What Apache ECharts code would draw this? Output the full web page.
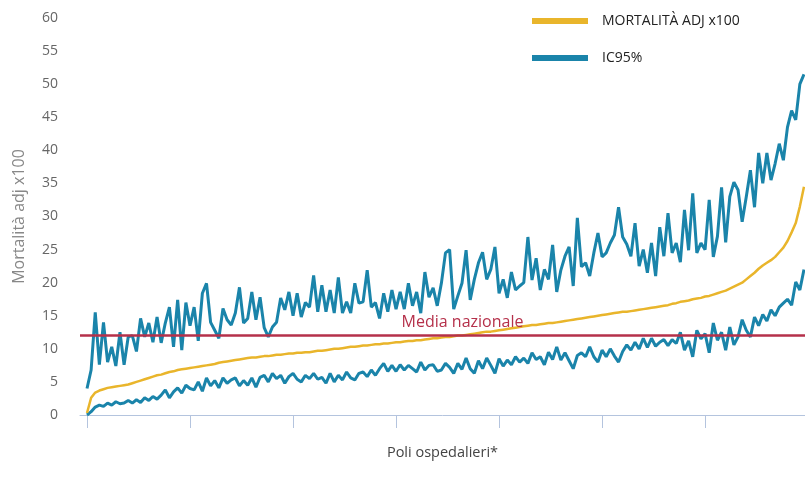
<!DOCTYPE html>
<html>
<head>
<meta charset="utf-8">
<script src="https://cdn.jsdelivr.net/npm/echarts@6/dist/echarts.min.js"></script>
<style>html,body{margin:0;padding:0;background:#fff}#c{width:805px;height:490px}</style>
</head>
<body>
<div id="c"></div>
<script>
// hospital index positions (every second hospital)
const poli = [0,2,4,6,8,10,12,14,16,18,20,22,24,26,28,30,32,34,36,38,40,42,44,46,48,
50,52,54,56,58,60,62,64,66,68,70,72,74,76,78,80,82,84,86,88,90,92,94,96,98,
100,102,104,106,108,110,112,114,116,118,120,122,124,126,128,130,132,134,136,138,140,142,144,146,148,
150,152,154,156,158,160,162,164,166,168,170,172,174,176,178,180,182,184,186,188,190,192,194,196,198,
200,202,204,206,208,210,212,214,216,218,220,222,224,226,228,230,232,234,236,238,240,242,244,246,248,
250,252,254,256,258,260,262,264,266,268,270,272,274,276,278,280,282,284,286,288,290,292,294,296,298,
300,302,304,306,308,310,312,314,316,318,320,322,324,326,328,330,332,334,336,338,340,342,344,346,348];

const mortalita = [0.3,2.6,3.4,3.7,3.9,4.1,4.2,4.3,4.4,4.5,4.6,4.8,5.0,5.2,5.4,5.6,5.8,6.0,6.1,6.3,6.5,6.6,6.8,6.9,7.0,
7.1,7.2,7.3,7.4,7.5,7.6,7.7,7.9,8.0,8.1,8.2,8.3,8.4,8.5,8.6,8.7,8.7,8.8,8.9,8.9,9.0,9.1,9.1,9.2,9.3,
9.3,9.4,9.4,9.5,9.5,9.6,9.7,9.7,9.8,9.9,10.0,10.0,10.1,10.2,10.3,10.3,10.4,10.5,10.5,10.6,10.7,10.7,10.8,10.8,10.9,
11.0,11.0,11.1,11.2,11.2,11.3,11.3,11.4,11.5,11.6,11.6,11.7,11.8,11.8,11.9,12.0,12.0,12.1,12.2,12.3,12.4,12.5,12.6,12.6,12.7,
12.8,12.9,13.0,13.1,13.2,13.3,13.4,13.5,13.6,13.6,13.7,13.8,13.9,13.9,14.0,14.1,14.2,14.3,14.4,14.5,14.6,14.7,14.8,14.9,15.0,
15.1,15.2,15.3,15.4,15.5,15.6,15.6,15.7,15.8,15.9,16.0,16.1,16.2,16.3,16.4,16.5,16.6,16.8,16.9,17.1,17.2,17.3,17.5,17.6,17.7,
17.9,18.0,18.2,18.4,18.6,18.8,19.1,19.4,19.7,20.0,20.5,21.0,21.5,22.1,22.6,23.0,23.4,23.9,24.6,25.3,26.3,27.6,29.0,31.5,34.5];

const icSup = [4.0,6.8,15.5,7.6,14.0,8.0,10.3,7.4,12.5,7.6,11.8,12.0,9.6,14.6,11.8,13.9,11.0,14.8,10.9,13.9,16.3,10.3,17.4,9.8,17.0,
13.5,16.3,11.2,18.4,19.9,14.0,12.8,11.6,16.1,14.4,13.6,15.4,19.3,13.9,14.6,18.6,14.4,17.8,13.2,11.8,13.3,14.0,17.7,15.9,18.6,
15.0,18.4,14.8,17.0,16.3,21.1,15.6,19.6,15.6,18.9,15.4,20.8,15.4,17.1,15.4,19.9,16.9,17.1,21.9,16.3,17.0,14.6,18.4,15.6,18.9,
16.0,18.6,16.0,19.9,16.5,18.6,15.4,21.6,17.8,19.2,16.5,19.9,24.5,25.0,16.0,18.0,19.9,24.9,17.4,20.5,23.0,24.6,20.5,22.0,25.4,
18.4,20.5,17.7,21.6,18.9,19.5,20.0,26.9,20.4,23.7,18.9,22.0,20.5,25.7,18.6,21.9,24.0,25.4,19.5,29.8,22.4,23.0,21.0,24.5,27.5,
23.9,24.5,26.0,27.2,31.4,26.9,25.8,24.0,29.0,22.5,25.0,21.5,26.0,21.0,28.4,24.0,30.5,24.5,26.0,23.1,31.0,24.9,33.5,24.5,26.0,
25.0,32.5,23.9,27.0,34.4,26.1,33.0,35.2,34.0,29.2,33.0,37.0,31.4,39.6,35.0,39.6,35.5,38.0,41.0,38.5,43.5,46.0,44.6,50.0,51.5];

const icInf = [0.0,0.5,1.2,1.5,1.3,1.8,1.5,2.0,1.7,1.8,2.2,1.8,2.3,1.9,2.6,2.2,2.8,2.4,3.0,3.8,2.6,3.5,4.1,3.3,4.5,
4.0,3.8,5.0,3.6,5.6,4.4,5.2,4.1,5.6,4.8,5.3,5.6,4.4,5.2,4.5,5.6,4.2,5.7,6.0,5.0,6.3,5.5,6.0,4.8,5.8,
6.3,5.4,5.0,6.0,5.5,6.3,5.4,5.7,4.8,6.3,5.0,6.0,5.3,6.5,5.6,5.3,6.3,6.5,5.8,6.8,6.0,7.0,7.8,6.6,7.5,
6.6,7.6,6.8,7.5,7.0,6.5,8.0,6.8,7.5,7.6,6.6,6.8,7.8,7.2,6.3,7.8,6.9,8.6,7.0,6.3,8.2,7.0,8.6,7.5,6.3,
8.5,7.4,8.3,7.6,8.8,8.0,8.6,7.8,9.4,8.4,8.8,7.6,9.5,8.4,10.3,8.3,9.4,8.2,7.0,9.0,9.4,8.8,10.3,8.8,8.0,
9.8,8.8,10.0,8.9,8.0,9.6,10.6,9.8,11.0,10.0,11.6,10.2,11.6,10.4,11.0,11.4,10.5,11.4,10.8,12.5,9.8,11.2,8.8,12.8,11.5,
12.3,9.4,13.9,11.3,12.5,9.8,13.3,10.6,11.8,14.4,12.8,11.8,14.8,13.5,15.2,14.2,15.9,15.0,16.3,16.9,17.5,16.6,20.1,18.9,22.0];

const mediaNazionale = 12;
const xTicks = [0,50,100,150,200,250,300];
const yTicks = [0,5,10,15,20,25,30,35,40,45,50,55,60];

const YEL = '#e9b52b', BLU = '#1a84aa', RED = '#b5304a';
const pair = arr => poli.map((x, i) => [x, arr[i]]);

const chart = echarts.init(document.getElementById('c'), null, {renderer: 'canvas'});
chart.setOption({
  animation: false,
  grid: {left: 80, right: 0, top: 18, bottom: 75, containLabel: false},
  legend: {
    orient: 'vertical', left: 527, top: 9, itemGap: 23,
    itemWidth: 56, itemHeight: 6, icon: 'rect',
    textStyle: {fontFamily: 'Open Sans', fontSize: 14, color: '#222', padding: [0, 0, 0, 9]},
    data: ['MORTALITÀ ADJ x100', 'IC95%']
  },
  xAxis: {
    type: 'value', min: -3.4, max: 348.5,
    name: 'Poli ospedalieri*', nameLocation: 'middle', nameGap: 30,
    nameTextStyle: {fontFamily: 'Open Sans', fontSize: 14.5, color: '#444'},
    axisLine: {show: true, lineStyle: {color: '#b4c4de', width: 1}},
    axisTick: {show: true, length: 13, customValues: xTicks, lineStyle: {color: '#b4c4de', width: 1}},
    axisLabel: {show: false},
    splitLine: {show: false}
  },
  yAxis: {
    type: 'value', min: 0, max: 60, interval: 5,
    name: 'Mortalità adj x100', nameLocation: 'middle', nameGap: 53, nameRotate: 90,
    nameTextStyle: {fontFamily: 'Open Sans', fontSize: 16, color: '#888'},
    axisLine: {show: false}, axisTick: {show: false},
    axisLabel: {margin: 22, fontFamily: 'Open Sans', fontSize: 14, color: '#666', customValues: yTicks},
    splitLine: {show: false}
  },
  series: [
    {
      name: 'IC95%', type: 'line', data: pair(icSup), showSymbol: false,
      itemStyle: {color: BLU}, lineStyle: {color: BLU, width: 3}, z: 2
    },
    {
      name: 'IC95%', type: 'line', data: pair(icInf), showSymbol: false,
      itemStyle: {color: BLU}, lineStyle: {color: BLU, width: 3}, z: 2
    },
    {
      name: 'MORTALITÀ ADJ x100', type: 'line', data: pair(mortalita), showSymbol: false,
      itemStyle: {color: YEL}, lineStyle: {color: YEL, width: 2.5}, z: 3,
      markLine: {
        silent: true, symbol: 'none', animation: false,
        lineStyle: {color: RED, width: 2.5, type: 'solid'},
        label: {show: true, position: 'insideMiddleTop', formatter: 'Media nazionale',
          fontFamily: 'Open Sans', fontSize: 16, color: RED, offset: [20, 0]},
        data: [{yAxis: mediaNazionale}]
      }
    }
  ]
});
</script>
</body>
</html>
